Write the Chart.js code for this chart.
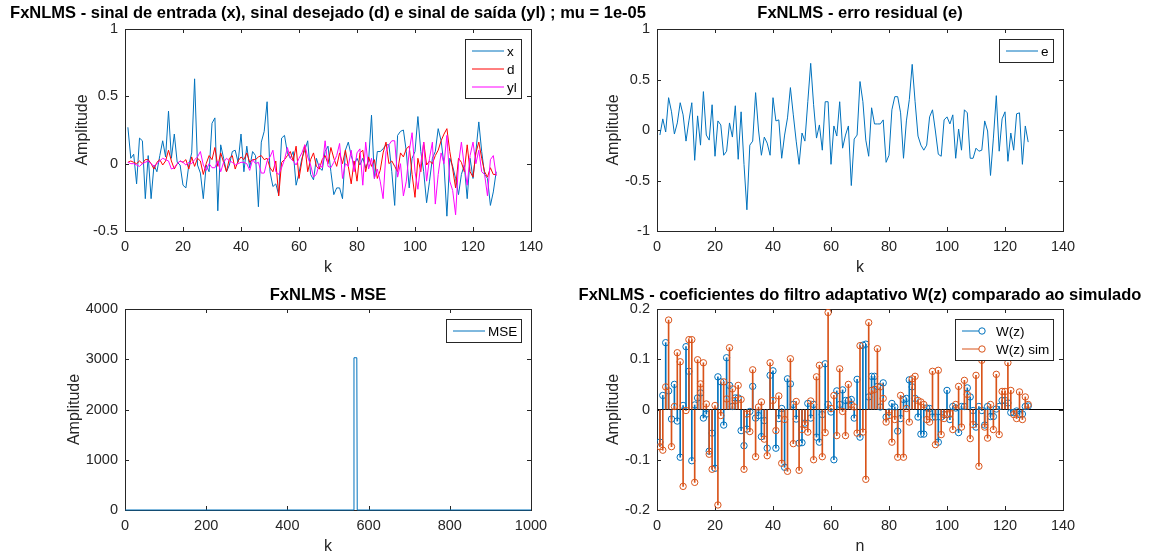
<!DOCTYPE html>
<html>
<head>
<meta charset="utf-8">
<script src="https://cdn.jsdelivr.net/npm/chart.js@4.4.0/dist/chart.umd.min.js"></script>
<style>
  body { margin: 0; background: #fff; overflow: hidden; width: 1154px; height: 558px; position: relative; }
  canvas { position: absolute; }
</style>
</head>
<body>
<canvas id="sinais" width="656" height="280" style="left:0;top:0"></canvas>
<canvas id="erro" width="586" height="280" style="left:567px;top:0"></canvas>
<canvas id="mse" width="656" height="278" style="left:0;top:280px"></canvas>
<canvas id="coef" width="586" height="278" style="left:567px;top:280px"></canvas>
<script>
// sinal de entrada x(k), desejado d(k), saida yl(k), k = 1..128
const sigX = [
  0.27, 0.04, 0.07, -0.15, 0.19, 0.17, -0.26, 0.06, -0.26, -0.01,
  -0.06, 0.06, 0.17, 0.05, 0.39, 0.04, 0.22, 0.01, -0.01, -0.16,
  -0.18, -0.01, 0.08, 0.63, -0.01, -0.07, -0.26, -0.01, -0.06, 0.30,
  0.34, -0.35, 0.14, 0.04, -0.06, -0.01, 0.09, 0.10, 0.01, 0.22,
  -0.06, 0.13, -0.03, 0.09, 0.06, -0.32,
  0.16, 0.24, 0.46, -0.06, -0.17, -0.15, -0.23, 0.19, 0.21, 0.08,
  0.04, 0.09, -0.16, -0.07, 0.04, 0.10, 0.17, -0.08, -0.12, 0.04,
  -0.03, -0.05, 0.09, 0.13, -0.06, -0.23, -0.18, -0.18, -0.26, 0.10,
  0.16, 0.06, -0.01, 0.04, -0.01, 0.04, -0.03, 0.02, 0.36, -0.11,
  0.09, 0.09, 0.11, 0.14, 0.14, -0.06, -0.31,
  0.21, 0.24, 0.25, 0.09, -0.18, 0.04, 0.09, 0.35, 0.09, -0.06,
  -0.29, -0.13, 0.04, 0.09, 0.26, 0.17, -0.01, -0.39, 0.04, -0.02,
  -0.11, -0.23, -0.08, -0.01, -0.26, 0.04, -0.11, 0.09, 0.31, 0.09,
  -0.08, -0.11, -0.31, -0.21, -0.06
];
const sigD = [
  0.01, 0.02, 0.01, 0.00, 0.02, 0.00, 0.03, 0.03, 0.00, -0.04,
  0.01, 0.03, -0.01, 0.02, 0.10, 0.02, -0.04, 0.00, 0.02, 0.01,
  0.03, -0.04, 0.05, -0.02, 0.04, 0.02, -0.08, 0.00, 0.06, 0.03,
  0.12, -0.02, 0.08, 0.01, -0.06, 0.04, 0.06, -0.04, 0.02, 0.05,
  0.03, 0.08, 0.01, 0.03, 0.03, 0.05, 0.06, 0.03, 0.04, -0.03,
  -0.06, 0.02, -0.24, 0.01, 0.03, 0.06, 0.09, 0.02, 0.13, -0.11,
  0.02, 0.14, -0.06, 0.03, 0.08, -0.02, -0.04, 0.03, 0.06, 0.00,
  0.12, 0.04, -0.02, 0.08, 0.00, 0.10, -0.02, -0.15, 0.02, -0.13,
  0.08, 0.10, -0.06, 0.05, -0.02, 0.03, -0.11, -0.05, 0.08, 0.16,
  0.00, 0.02, -0.02, -0.06, 0.08, 0.05, 0.11, 0.13, -0.08, -0.25,
  0.04, -0.06, 0.16, -0.01, 0.02, 0.00, 0.06, 0.10, 0.17, 0.22,
  0.26, 0.09, -0.04, -0.18, 0.04, 0.01, -0.06, 0.14, -0.06, -0.10,
  0.08, 0.16, 0.04, -0.06, -0.10, -0.03, -0.08, -0.08
];
const sigYl = [
  0.01, 0.00, 0.00, -0.01, -0.02, 0.00, 0.01, 0.02, 0.00, -0.02,
  0.00, 0.02, 0.04, 0.03, 0.02, -0.04, -0.03, 0.00, 0.02, 0.01,
  -0.01, 0.01, 0.00, 0.03, 0.05, 0.09, -0.01, -0.05, 0.00, -0.03,
  -0.03, 0.02, -0.06, 0.01, 0.04, 0.02, 0.01, -0.01, 0.00, 0.01,
  0.01, 0.00, -0.05, 0.03, 0.00, 0.01,
  -0.07, -0.07, 0.02, 0.05, 0.10, -0.06, -0.08, -0.03, 0.03, 0.12,
  0.04, 0.02, -0.01, 0.04,
  0.08, 0.14, 0.05, -0.01, -0.10, -0.08, 0.00, -0.03, 0.17, -0.02,
  -0.03, 0.01, 0.06, 0.15, -0.11, 0.00, -0.02, 0.10, -0.06, 0.08,
  0.11, -0.16, 0.16, -0.04, 0.04, -0.11, -0.04, -0.13, -0.26, 0.09,
  0.14, 0.17, 0.17, -0.10, 0.00, -0.24, -0.13, 0.09, 0.23, -0.06,
  -0.19, 0.00, 0.16, -0.13, 0.04, 0.16, -0.30, -0.08, 0.08, 0.00,
  0.21, -0.13, -0.20, -0.38, 0.00, 0.16, -0.02, -0.16, 0.06, 0.16,
  0.00, 0.10, -0.06, -0.08, -0.24, 0.03, 0.06, -0.09
];
// erro residual e(k)
const errE = [
  -0.05, 0.11, -0.02, 0.32, 0.18, -0.04, 0.07, 0.27, 0.15, -0.11,
  0.09, 0.27, -0.30, 0.14, -0.15, 0.38, -0.05, -0.10, 0.25, -0.26,
  0.09, 0.05, -0.25, -0.21, 0.07, -0.07, 0.24, -0.29, 0.18, -0.34,
  -0.79, -0.15, -0.11, 0.37, 0.00, -0.25, -0.07, -0.13, -0.25, 0.32,
  0.09, 0.10, -0.28, -0.05, 0.12, 0.42,
  0.15, -0.11, -0.34, -0.03, -0.11, 0.28, 0.66, 0.25, -0.08, 0.05,
  -0.20, 0.28, 0.28, -0.34, 0.04, -0.06, 0.28, -0.18, -0.05, 0.04,
  -0.55, -0.09, -0.05, 0.48, 0.28, -0.10, -0.26, 0.22, 0.06, 0.06,
  0.06, 0.10, -0.32, -0.25, 0.20, 0.33, 0.33, 0.17, -0.28, 0.09,
  0.30, 0.65, 0.28, -0.06, -0.15, -0.20,
  -0.15, 0.13, 0.20, -0.01, -0.24, -0.26, 0.10, 0.13, 0.06, 0.15,
  -0.28, 0.01, -0.20, 0.20, 0.17, -0.28, -0.28, -0.18, -0.21, -0.20,
  0.09, -0.01, -0.45, -0.08, 0.34, -0.21, 0.11, 0.18, -0.31, -0.03,
  -0.20, 0.16, 0.17, -0.34, 0.04, -0.12
];
// MSE: breakpoints (k) e valores
const mseK = [1, 563, 564, 571, 572, 1000];
const mseV = [0, 0, 3030, 3030, 0, 0];
// coeficientes W(z) e W(z) simulado, n = 1..128
const coefW = [
  -0.065, 0.028, 0.133, 0.037, -0.019, 0.050, -0.023, -0.095, 0.008, 0.125,
  0.076, -0.102, 0.009, 0.023, 0.033, -0.017, -0.009, -0.083, -0.047, -0.117,
  0.065, 0.055, -0.031, 0.103, 0.048, 0.006, 0.023, 0.023, -0.042, -0.072,
  -0.039, -0.004, 0.046, -0.017, -0.012, -0.054, -0.022, -0.077, 0.068, 0.077,
  -0.077, -0.018, 0.002, -0.115, 0.061, 0.051, 0.010, -0.019, -0.067, -0.066,
  -0.027, 0.012, -0.017, 0.010, -0.055, -0.065, -0.010, 0.091, 0.010, -0.005,
  -0.100, 0.037, 0.010, 0.039, 0.018, 0.018, 0.020, -0.017, 0.060, -0.055,
  0.128, 0.130, 0.025, 0.066, 0.066, 0.046, 0.005, 0.053, -0.015, -0.005,
  0.012, 0.005, -0.043, -0.018, 0.020, 0.022, 0.059, 0.045, 0.022, -0.015,
  -0.049, -0.049, 0.003, 0.002, -0.015, -0.015, -0.065, -0.015, -0.010, 0.038,
  -0.020, 0.006, 0.003, -0.046, 0.006, 0.006, 0.043, 0.025, -0.002, -0.035,
  0.006, -0.002, -0.031, 0.006, -0.014, -0.014, 0.001, 0.006, 0.018, 0.018,
  0.013, -0.006, -0.006, -0.003, -0.010, -0.009, 0.006, 0.007
];
const coefWsim = [
  -0.074, -0.081, 0.045, 0.178, -0.074, 0.006, 0.113, 0.095, -0.153, -0.002,
  0.139, 0.139, -0.145, 0.099, 0.051, 0.093, 0.011, -0.089, -0.119, 0.008,
  -0.190, -0.012, 0.055, 0.021, 0.123, 0.041, 0.018, 0.048, 0.020, -0.119,
  -0.009, -0.044, 0.079, -0.094, 0.005, 0.015, -0.059, -0.092, 0.093, 0.018,
  -0.042, 0.027, -0.107, -0.020, -0.123, 0.101, -0.068, 0.016, -0.121, -0.040,
  -0.030, -0.045, 0.017, -0.100, 0.065, 0.088, -0.094, -0.046, 0.193, 0.002,
  0.028, -0.052, 0.081, -0.004, -0.052, 0.050, 0.010, 0.005, -0.047, 0.127,
  -0.045, -0.139, 0.173, 0.038, 0.040, 0.121, 0.045, 0.022, -0.025, -0.012,
  -0.065, -0.020, -0.095, 0.028, -0.095, 0.002, -0.025, 0.061, 0.066, 0.018,
  0.015, 0.010, -0.020, -0.025, 0.076, -0.070, 0.078, -0.050, -0.018, -0.010,
  -0.008, -0.040, 0.010, 0.046, -0.035, 0.058, 0.030, -0.058, -0.030, 0.068,
  -0.113, 0.098, -0.035, -0.057, 0.010, -0.040, 0.070, -0.050, 0.036, 0.036,
  0.093, 0.038, -0.010, -0.018, 0.035, -0.020, 0.025, 0.010
];

const titles = [
  'FxNLMS - sinal de entrada (x), sinal desejado (d) e sinal de saída (yl) ; mu = 1e-05',
  'FxNLMS - erro residual (e)',
  'FxNLMS - MSE',
  'FxNLMS - coeficientes do filtro adaptativo W(z) comparado ao simulado'
];

const BLUE = '#0072BD', ORANGE = '#D95319', AXIS = '#262626';
Chart.defaults.font.family = "'Liberation Sans', Arial, sans-serif";
Chart.defaults.animation = false;

const idx = arr => arr.map((v, i) => ({ x: i + 1, y: v }));

// caixa e ticks para dentro, estilo matlab
const boxPlugin = {
  id: 'box',
  beforeDatasetsDraw(chart) {
    const { ctx, chartArea: a, scales } = chart;
    ctx.save();
    ctx.strokeStyle = AXIS;
    ctx.lineWidth = 1;
    ctx.beginPath();
    scales.x.ticks.forEach(t => {
      const px = Math.round(scales.x.getPixelForValue(t.value)) + 0.5;
      ctx.moveTo(px, a.bottom); ctx.lineTo(px, a.bottom - 4);
      ctx.moveTo(px, a.top); ctx.lineTo(px, a.top + 4);
    });
    scales.y.ticks.forEach(t => {
      const py = Math.round(scales.y.getPixelForValue(t.value)) + 0.5;
      ctx.moveTo(a.left, py); ctx.lineTo(a.left + 4, py);
      ctx.moveTo(a.right, py); ctx.lineTo(a.right - 4, py);
    });
    ctx.stroke();
    ctx.strokeRect(Math.round(a.left) + 0.5, Math.round(a.top) + 0.5,
      Math.round(a.right - a.left), Math.round(a.bottom - a.top));
    ctx.restore();
  }
};

// legenda dentro do eixo, canto superior direito
const legendPlugin = {
  id: 'mlegend',
  afterDraw(chart, args, opts) {
    const items = chart.data.datasets.filter(d => d.inLegend);
    if (!items.length) return;
    const { ctx, chartArea: a } = chart;
    ctx.save();
    ctx.font = "13.5px 'Liberation Sans', Arial, sans-serif";
    const textW = Math.max(...items.map(d => ctx.measureText(d.label).width));
    const lineLen = opts.lineLen || 32;
    const gap = opts.marker ? 11 : 3;
    const w = Math.round(7 + lineLen + gap + textW + 4);
    const h = items.length * 18 + 5;
    const x0 = Math.round(a.right - 10 - w), y0 = Math.round(a.top + 10);
    ctx.fillStyle = '#fff';
    ctx.fillRect(x0, y0, w, h);
    ctx.strokeStyle = AXIS;
    ctx.lineWidth = 1;
    ctx.strokeRect(x0 + 0.5, y0 + 0.5, w, h);
    items.forEach((d, i) => {
      const cy = y0 + 12 + i * 18;
      ctx.strokeStyle = d.borderColor;
      ctx.beginPath();
      ctx.moveTo(x0 + 7, cy); ctx.lineTo(x0 + 7 + lineLen, cy);
      ctx.stroke();
      if (opts.marker) {
        ctx.beginPath();
        ctx.arc(x0 + 7 + lineLen - 3, cy, 3.2, 0, Math.PI * 2);
        ctx.fillStyle = '#fff';
        ctx.fill();
        ctx.stroke();
      }
      ctx.fillStyle = '#000';
      ctx.textBaseline = 'middle';
      ctx.fillText(d.label, x0 + 7 + lineLen + gap, cy + 1);
    });
    ctx.restore();
  }
};

function scales(o) {
  const tickFont = { size: 14.5 };
  return {
    x: {
      type: 'linear', min: o.xmin, max: o.xmax, offset: false,
      ticks: { stepSize: o.xstep, padding: 7, color: AXIS, font: tickFont, maxRotation: 0, autoSkip: false, callback: v => String(v) },
      grid: { display: false, drawTicks: false },
      border: { display: false },
      title: { display: true, text: o.xlabel, color: AXIS, font: { size: 16, lineHeight: 1 }, padding: { top: 0, bottom: o.xtp } },
      afterFit: s => { s.height = o.xh; }
    },
    y: {
      type: 'linear', min: o.ymin, max: o.ymax,
      ticks: { stepSize: o.ystep, padding: 7, color: AXIS, font: tickFont, callback: v => String(v) },
      grid: o.zeroLine
        ? { display: true, drawTicks: false, lineWidth: 1, color: c => c.tick && c.tick.value === 0 ? '#000' : 'rgba(0,0,0,0)' }
        : { display: false, drawTicks: false },
      border: { display: false },
      title: { display: true, text: 'Amplitude', color: AXIS, font: { size: 16, lineHeight: 1 }, padding: { top: o.ytp, bottom: 0 } },
      afterFit: s => { s.width = o.yw; }
    },
    y2: {
      type: 'linear', position: 'right', display: true,
      ticks: { display: false }, grid: { display: false, drawTicks: false }, border: { display: false },
      afterFit: s => { s.width = o.yw; }
    }
  };
}

function titleOpts(text, top, bottom) {
  return {
    display: true, text, color: '#000',
    font: { size: 16.5, weight: 'bold', lineHeight: 1 },
    padding: { top, bottom }
  };
}

const common = { responsive: false, events: [], layout: { padding: 0 } };

new Chart(document.getElementById('sinais'), {
  type: 'scatter',
  data: {
    datasets: [
      { label: 'x', data: idx(sigX), showLine: true, borderColor: BLUE, borderWidth: 1, pointRadius: 0, order: 3, inLegend: true },
      { label: 'd', data: idx(sigD), showLine: true, borderColor: '#FF0000', borderWidth: 1, pointRadius: 0, order: 2, inLegend: true },
      { label: 'yl', data: idx(sigYl), showLine: true, borderColor: '#FF00FF', borderWidth: 1, pointRadius: 0, order: 1, inLegend: true }
    ]
  },
  options: {
    ...common,
    scales: scales({ xmin: 0, xmax: 140, xstep: 20, ymin: -0.5, ymax: 1, ystep: 0.5, xlabel: 'k', xh: 49, xtp: 4, yw: 125, ytp: 75 }),
    plugins: { legend: { display: false }, tooltip: { enabled: false }, title: titleOpts(titles[0], 5.5, 7), mlegend: { lineLen: 32 } }
  },
  plugins: [boxPlugin, legendPlugin]
});

new Chart(document.getElementById('erro'), {
  type: 'scatter',
  data: {
    datasets: [
      { label: 'e', data: idx(errE), showLine: true, borderColor: BLUE, borderWidth: 1, pointRadius: 0, inLegend: true }
    ]
  },
  options: {
    ...common,
    scales: scales({ xmin: 0, xmax: 140, xstep: 20, ymin: -1, ymax: 1, ystep: 0.5, xlabel: 'k', xh: 49, xtp: 4, yw: 90, ytp: 39 }),
    plugins: { legend: { display: false }, tooltip: { enabled: false }, title: titleOpts(titles[1], 5.5, 7), mlegend: { lineLen: 32 } }
  },
  plugins: [boxPlugin, legendPlugin]
});

new Chart(document.getElementById('mse'), {
  type: 'scatter',
  data: {
    datasets: [
      { label: 'MSE', data: mseK.map((k, i) => ({ x: k, y: mseV[i] })), showLine: true, borderColor: BLUE, borderWidth: 1, pointRadius: 0, clip: 2, inLegend: true }
    ]
  },
  options: {
    ...common,
    scales: scales({ xmin: 0, xmax: 1000, xstep: 200, ymin: 0, ymax: 4000, ystep: 1000, xlabel: 'k', xh: 48, xtp: 3, yw: 125, ytp: 67 }),
    plugins: { legend: { display: false }, tooltip: { enabled: false }, title: titleOpts(titles[2], 7, 5.5), mlegend: { lineLen: 32 } }
  },
  plugins: [boxPlugin, legendPlugin]
});

new Chart(document.getElementById('coef'), {
  type: 'scatter',
  data: {
    datasets: [
      { type: 'bar', label: 'W(z) haste', data: idx(coefW), backgroundColor: BLUE, barThickness: 1, grouped: false, order: 4 },
      { label: 'W(z)', data: idx(coefW), borderColor: BLUE, backgroundColor: 'rgba(0,0,0,0)', pointRadius: 3.2, borderWidth: 1, order: 3, inLegend: true },
      { type: 'bar', label: 'W(z) sim haste', data: idx(coefWsim), backgroundColor: ORANGE, barThickness: 1, grouped: false, order: 2 },
      { label: 'W(z) sim', data: idx(coefWsim), borderColor: ORANGE, backgroundColor: 'rgba(0,0,0,0)', pointRadius: 3.2, borderWidth: 1, order: 1, inLegend: true }
    ]
  },
  options: {
    ...common,
    scales: scales({ xmin: 0, xmax: 140, xstep: 20, ymin: -0.2, ymax: 0.2, ystep: 0.1, xlabel: 'n', xh: 48, xtp: 3, yw: 90, ytp: 39, zeroLine: true }),
    plugins: { legend: { display: false }, tooltip: { enabled: false }, title: titleOpts(titles[3], 7, 5.5), mlegend: { lineLen: 23, marker: true } }
  },
  plugins: [boxPlugin, legendPlugin]
});
</script>
</body>
</html>
